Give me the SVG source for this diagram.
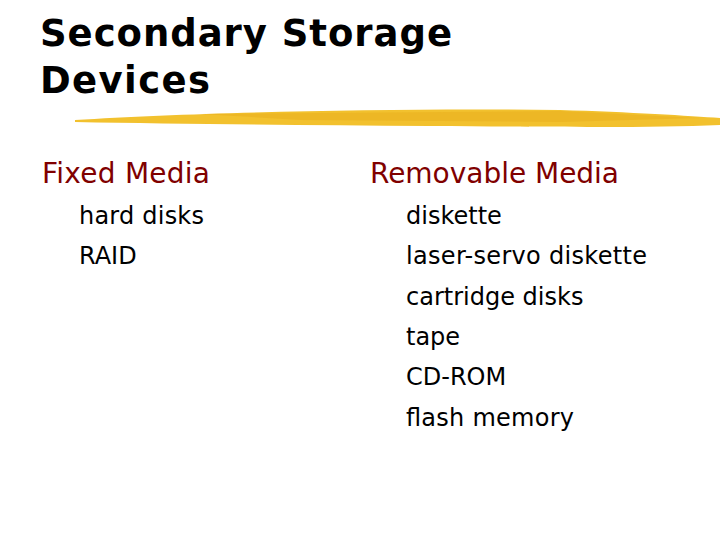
<svg xmlns="http://www.w3.org/2000/svg" width="720" height="540" viewBox="0 0 720 540">
<style>
.t{font-family:"DejaVu Sans",sans-serif;font-weight:bold;font-size:37px;fill:#000;letter-spacing:1px}
.h{font-family:"DejaVu Sans",sans-serif;font-size:28px;fill:#800000}
.i{font-family:"DejaVu Sans",sans-serif;font-size:24px;fill:#000}
</style>
<rect width="720" height="540" fill="#fff"/>
<g id="title">
<text class="t" x="40" y="46" textLength="413">Secondary Storage</text>
<text class="t" x="40" y="93" textLength="171">Devices</text>
</g>
<g id="underline">
<path d="M75,120 C200,112 400,108 560,110 C630,112 690,116 720,118 L720,125 C650,128 560,127 430,126 C300,125 180,124 75,122 Z" fill="#f2c12e"/>
<path d="M200,114 L560,111 L700,118 L560,122 L300,120 Z" fill="#e9b020" opacity="0.6"/>
</g>
<g id="fixed">
<text class="h" x="42" y="183" textLength="168">Fixed Media</text>
<text class="i" x="79" y="224" textLength="125">hard disks</text>
<text class="i" x="79" y="264">RAID</text>
</g>
<g id="removable">
<text class="h" x="370" y="183" textLength="249">Removable Media</text>
<text class="i" x="406" y="224">diskette</text>
<text class="i" x="406" y="264" textLength="241">laser-servo diskette</text>
<text class="i" x="406" y="305">cartridge disks</text>
<text class="i" x="406" y="345">tape</text>
<text class="i" x="406" y="385">CD-ROM</text>
<text class="i" x="406" y="426" textLength="168">flash memory</text>
</g>
</svg>
